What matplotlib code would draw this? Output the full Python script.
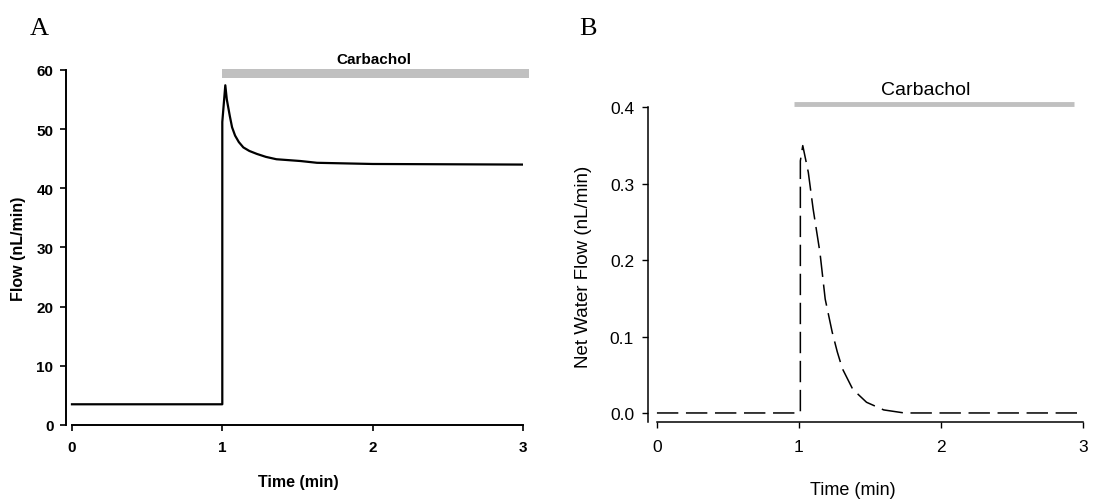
import numpy as np
import matplotlib
matplotlib.use("Agg")
import matplotlib.pyplot as plt

# panel A - total flow
time_a = [0.0, 1.0, 1.0, 1.02, 1.03, 1.05, 1.065, 1.085, 1.11, 1.14, 1.18, 1.23, 1.29, 1.36, 1.52, 1.63, 2.0, 3.0]
flow_a = [3.5, 3.5, 51.2, 57.4, 55.0, 52.2, 50.3, 48.9, 47.8, 46.9, 46.3, 45.8, 45.3, 44.9, 44.6, 44.3, 44.1, 44.0]

# panel B - net water flow
time_b = [0.0, 1.01, 1.01, 1.027, 1.066, 1.10, 1.148, 1.185, 1.234, 1.27, 1.306, 1.379, 1.476, 1.597, 1.742, 3.0]
flow_b = [0.0, 0.0, 0.33, 0.35, 0.315, 0.267, 0.21, 0.149, 0.106, 0.08, 0.058, 0.031, 0.014, 0.004, 0.0, 0.0]

ticks_x = [0, 1, 2, 3]
ticks_ya = [0, 10, 20, 30, 40, 50, 60]
ticks_yb = [0.0, 0.1, 0.2, 0.3, 0.4]
carb_a = (1.0, 3.04)
carb_b = (0.967, 2.94)

plt.rcParams['font.family'] = ['Liberation Sans', 'DejaVu Sans']

fig = plt.figure(figsize=(10.94, 5.02), dpi=100)
grey = '#c0c0c0'

# ---- A ----
ax = fig.add_axes([0.0603, 0.1514, 0.4177, 0.731])
ax.plot(time_a, flow_a, color='black', lw=1.6)
ax.fill_between(carb_a, 58.6, 60.2, color=grey, lw=0, clip_on=False)
ax.text(2.01, 61.8, 'Carbachol', ha='center', va='center', fontsize=11, fontweight='bold')
ax.set_xlim(-0.04, 3.0)
ax.set_ylim(0, 62)
for s in ['top', 'right']:
    ax.spines[s].set_visible(False)
ax.spines['left'].set_bounds(0, 60)
ax.spines['bottom'].set_bounds(0, 3)
for s in ['left', 'bottom']:
    ax.spines[s].set_linewidth(1.4)
ax.set_xticks(ticks_x)
ax.set_yticks(ticks_ya)
ax.tick_params(direction='out', length=4, width=1.2, labelsize=11)
ax.tick_params(axis='x', pad=7)
ax.tick_params(axis='y', pad=5)
for lab in ax.get_xticklabels() + ax.get_yticklabels():
    lab.set_fontweight('bold')
ax.set_xlabel('Time (min)', fontsize=11.5, fontweight='bold', va='center')
ax.set_ylabel('Flow (nL/min)', fontsize=11.5, fontweight='bold')
ax.xaxis.set_label_coords(0.508, -0.153)
ax.yaxis.set_label_coords(-0.088, 0.482)

# ---- B ----
bx = fig.add_axes([0.5923, 0.1568, 0.3976, 0.6729])
bx.plot(time_b, flow_b, color='black', lw=1.1, dashes=(14, 5))
bx.plot(carb_b, [0.405, 0.405], color=grey, lw=3.5, solid_capstyle='butt', clip_on=False)
bx.text(1.89, 0.424, 'Carbachol', ha='center', va='center', fontsize=14)
bx.set_xlim(-0.063, 3.0)
bx.set_ylim(-0.0122, 0.43)
for s in ['top', 'right']:
    bx.spines[s].set_visible(False)
bx.spines['left'].set_bounds(-0.0122, 0.4)
bx.spines['bottom'].set_bounds(0, 3)
for s in ['left', 'bottom']:
    bx.spines[s].set_linewidth(1.1)
bx.set_xticks(ticks_x)
bx.set_yticks(ticks_yb)
bx.set_yticklabels(['%.1f' % v for v in ticks_yb])
bx.tick_params(direction='out', length=4, width=1.0, labelsize=12.5)
bx.tick_params(axis='x', pad=8)
bx.tick_params(axis='y', pad=6)
bx.set_xlabel('Time (min)', fontsize=13, va='center')
bx.set_ylabel('Net Water Flow (nL/min)', fontsize=13.5)
bx.xaxis.set_label_coords(0.47, -0.2)
bx.yaxis.set_label_coords(-0.128, 0.4636)

fig.text(0.027, 0.93, 'A', fontsize=19, family='Liberation Serif')
fig.text(0.529, 0.93, 'B', fontsize=19, family='Liberation Serif')

fig.savefig('out.png', dpi=100)
